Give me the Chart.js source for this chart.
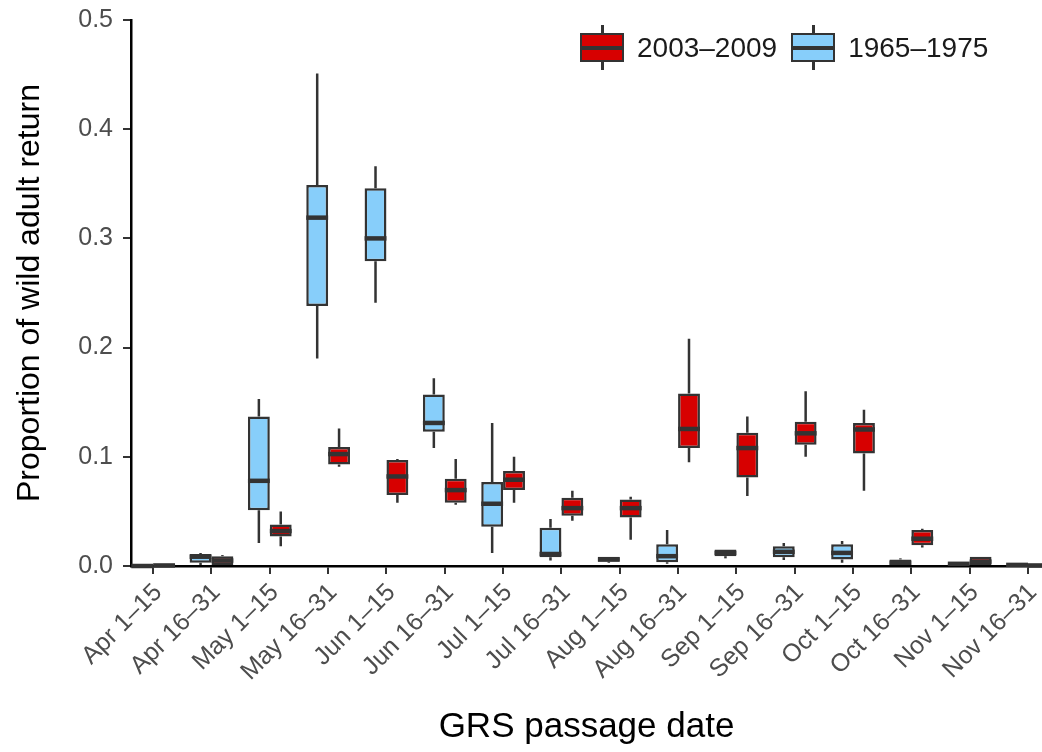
<!DOCTYPE html>
<html>
<head>
<meta charset="utf-8">
<script src="https://cdn.jsdelivr.net/npm/chart.js@4.4.1/dist/chart.umd.min.js"></script>
<style>
  body { margin: 0; background: #fff; font-family: "Liberation Sans", Arial, sans-serif; }
  #wrap { position: relative; width: 1042px; height: 752px; }
  .legend { position: absolute; top: 25px; left: 580px; display: flex; align-items: center; font-size: 28px; color: #1a1a1a; }
  .item { display: flex; align-items: center; margin-right: 14px; }
  .key { position: relative; width: 44px; height: 45px; margin-right: 13px; }
  .key .whisker { position: absolute; left: 21px; top: 0; width: 2.5px; height: 45px; background: #333; }
  .key .box { position: absolute; left: 0; top: 8px; width: 44px; height: 29px; box-sizing: border-box; border: 2.5px solid #333; }
  .key .med { position: absolute; left: 0; top: 21px; width: 44px; height: 4px; background: #333; }
</style>
</head>
<body>
<div id="wrap">
  <canvas id="boxChart"></canvas>
  <div class="legend" id="legend"></div>
</div>
<script>
// GRS passage periods (x categories)
const periods = ['Apr 1–15', 'Apr 16–31', 'May 1–15', 'May 16–31', 'Jun 1–15', 'Jun 16–31',
  'Jul 1–15', 'Jul 16–31', 'Aug 1–15', 'Aug 16–31', 'Sep 1–15', 'Sep 16–31',
  'Oct 1–15', 'Oct 16–31', 'Nov 1–15', 'Nov 16–31'];

// each entry: [min, q1, median, q3, max]
const boxes1965 = [
  [0, 0, 0, 0, 0],
  [0.001, 0.003, 0.0085, 0.011, 0.012],
  [0.021, 0.051, 0.078, 0.137, 0.153],
  [0.19, 0.238, 0.319, 0.349, 0.451],
  [0.241, 0.279, 0.300, 0.346, 0.366],
  [0.108, 0.123, 0.131, 0.157, 0.172],
  [0.012, 0.036, 0.057, 0.077, 0.131],
  [0.005, 0.008, 0.011, 0.035, 0.043],
  [0.003, 0.004, 0.006, 0.0085, 0.0085],
  [0.002, 0.0035, 0.009, 0.020, 0.033],
  [0.007, 0.009, 0.012, 0.015, 0.015],
  [0.0055, 0.008, 0.013, 0.018, 0.021],
  [0.003, 0.006, 0.012, 0.020, 0.023],
  [0.001, 0.001, 0.003, 0.006, 0.007],
  [0.001, 0.001, 0.002, 0.002, 0.002],
  [0, 0, 0.001, 0.001, 0.001]
];

const boxes2003 = [
  [0, 0, 0.0005, 0.001, 0.001],
  [0.001, 0.001, 0.005, 0.009, 0.010],
  [0.018, 0.027, 0.032, 0.038, 0.050],
  [0.091, 0.093, 0.1025, 0.109, 0.126],
  [0.058, 0.065, 0.082, 0.097, 0.098],
  [0.056, 0.058, 0.0695, 0.080, 0.098],
  [0.058, 0.0695, 0.079, 0.087, 0.100],
  [0.0415, 0.046, 0.053, 0.0625, 0.069],
  [0.024, 0.0445, 0.053, 0.061, 0.0635],
  [0.095, 0.108, 0.1255, 0.158, 0.208],
  [0.064, 0.081, 0.108, 0.122, 0.137],
  [0.100, 0.111, 0.1215, 0.132, 0.160],
  [0.069, 0.103, 0.125, 0.131, 0.143],
  [0.017, 0.019, 0.025, 0.033, 0.034],
  [0.001, 0.001, 0.004, 0.0085, 0.0085],
  [0, 0, 0.0005, 0.001, 0.001]
];

const yTicks = [0, 0.1, 0.2, 0.3, 0.4, 0.5];

const series = [
  { label: '1965–1975', stats: boxes1965, fill: '#87cefa' },
  { label: '2003–2009', stats: boxes2003, fill: '#d70000' }
];

const INK = '#333333';

Chart.defaults.font.family = '"Liberation Sans", Arial, sans-serif';

// whiskers + median line on top of the floating bars (the boxes)
const boxWhiskers = {
  id: 'boxWhiskers',
  afterDatasetsDraw(chart) {
    const { ctx } = chart;
    const y = chart.scales.y;
    ctx.save();
    ctx.strokeStyle = INK;
    chart.data.datasets.forEach((ds, di) => {
      const meta = chart.getDatasetMeta(di);
      meta.data.forEach((bar, i) => {
        const s = ds.stats[i];
        const { x, width } = bar.getProps(['x', 'width'], true);
        ctx.lineWidth = 2.5;
        ctx.beginPath();
        ctx.moveTo(x, y.getPixelForValue(s[3]));
        ctx.lineTo(x, y.getPixelForValue(s[4]));
        ctx.moveTo(x, y.getPixelForValue(s[1]));
        ctx.lineTo(x, y.getPixelForValue(s[0]));
        ctx.stroke();
        ctx.lineWidth = 4.5;
        ctx.beginPath();
        ctx.moveTo(x - width / 2, y.getPixelForValue(s[2]));
        ctx.lineTo(x + width / 2, y.getPixelForValue(s[2]));
        ctx.stroke();
      });
    });
    ctx.restore();
  }
};

const ctx = document.getElementById('boxChart').getContext('2d');

new Chart(ctx, {
  type: 'bar',
  data: {
    datasets: series.map(s => ({
      label: s.label,
      stats: s.stats,
      data: s.stats.map((b, i) => ({ x: i, y: [b[1], b[3]] })),
      backgroundColor: s.fill,
      borderColor: INK,
      borderWidth: 2.5,
      borderSkipped: false
    }))
  },
  options: {
    responsive: true,
    maintainAspectRatio: false,
    animation: false,
    devicePixelRatio: 1,
    layout: { padding: { top: 20, right: 0, bottom: 0, left: 0 } },
    datasets: { bar: { categoryPercentage: 0.75, barPercentage: 1 } },
    plugins: { legend: { display: false }, tooltip: { enabled: false } },
    scales: {
      x: {
        type: 'linear',
        offset: false,
        min: -0.38,
        max: 15.24,
        afterBuildTicks: s => { s.ticks = periods.map((_, i) => ({ value: i })); },
        afterFit: s => { s.height = 186; s.paddingLeft = 0; s.paddingRight = 0; },
        grid: { offset: false, drawOnChartArea: false, color: INK, lineWidth: 2, tickLength: 8 },
        border: { display: true, color: '#000', width: 2.5 },
        ticks: {
          autoSkip: false, minRotation: 45, maxRotation: 45, padding: 4, labelOffset: 5,
          color: '#4d4d4d', font: { size: 25 },
          callback: v => periods[v]
        },
        title: { display: true, text: 'GRS passage date', color: '#000', font: { size: 35 }, padding: { top: 0, bottom: 4 } }
      },
      y: {
        min: 0,
        max: 0.5,
        afterBuildTicks: s => { s.ticks = yTicks.map(v => ({ value: v })); },
        afterFit: s => { s.width = 131; s.paddingTop = 0; s.paddingBottom = 0; },
        grid: { drawOnChartArea: false, color: INK, lineWidth: 2, tickLength: 8 },
        border: { display: true, color: '#000', width: 2.5 },
        ticks: { padding: 10, color: '#4d4d4d', font: { size: 25 }, callback: v => v.toFixed(1) },
        title: { display: true, text: 'Proportion of wild adult return', color: '#000', font: { size: 32 }, padding: { top: 11, bottom: 0 } }
      }
    }
  },
  plugins: [boxWhiskers]
});

// legend: 2003–2009 first, as in the figure
document.getElementById('legend').innerHTML = [series[1], series[0]].map(s => `
  <div class="item">
    <div class="key">
      <div class="whisker"></div>
      <div class="box" style="background:${s.fill}"></div>
      <div class="med"></div>
    </div>
    <span>${s.label}</span>
  </div>
`).join('');
</script>
</body>
</html>
